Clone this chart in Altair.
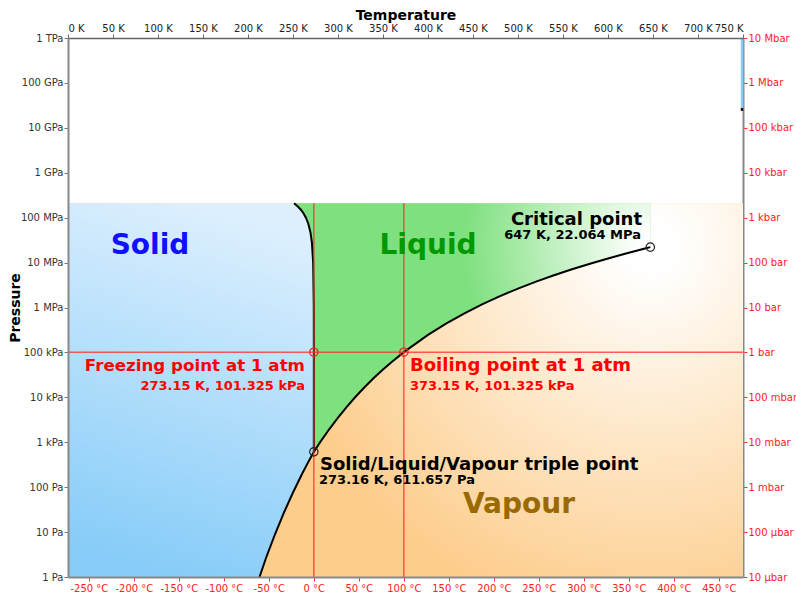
import json
import altair as alt
import pandas as pd

FONT = "DejaVu Sans"

# ---- phase boundaries of water (temperature in K, pressure in Pa) ----
# ice / vapour (sublimation)
sub_T = [212.8, 220.0, 230.0, 240.0, 250.0, 260.0, 265.0, 270.0, 273.16]
sub_P = [1.0, 2.65, 8.95, 27.3, 76.1, 195.8, 306.0, 470.0, 611.657]

# ice / liquid (melting), up to the ice Ih / III / liquid point
melt_T = [273.16, 273.15, 273.08, 272.4, 271.0, 269.4, 267.0, 264.2, 261.3, 258.5, 255.0, 251.165]
melt_P = [611.657, 101325, 1.08e6, 1.01e7, 2.79e7, 4.70e7, 7.34e7, 1.01e8, 1.28e8, 1.52e8, 1.80e8, 2.099e8]

# liquid / vapour (vaporisation), triple point to critical point
vap_T = [273.16, 280, 290, 300, 310, 320, 330, 340, 350, 360, 373.15, 400, 420, 440,
         460, 480, 500, 520, 540, 560, 580, 600, 620, 640, 647]
vap_P = [611.657, 991.8, 1919, 3536, 6230, 10550, 17200, 27190, 41680, 62200, 101325,
         245800, 437000, 733000, 1.171e6, 1.790e6, 2.639e6, 3.769e6, 5.237e6, 7.106e6,
         9.448e6, 12.34e6, 15.90e6, 20.27e6, 22.064e6]

# marked points
black_pts_T = [273.16, 647.0]          # triple point, critical point
black_pts_P = [611.657, 22.064e6]
red_pts_T = [273.15, 373.15]           # freezing and boiling at 1 atm
red_pts_P = [101325, 101325]

P_TOP = 2.099e8      # upper limit of the shaded phase regions
T_MAX = 750
P_HIGH_MARK = 2.75e10

# ---- axis ticks and labels ----
kelvin_ticks = list(range(0, 751, 50))
celsius_ticks = list(range(-250, 451, 50))
pa_ticks = [10.0 ** k for k in range(13)]
pa_labels = ["1 Pa", "10 Pa", "100 Pa", "1 kPa", "10 kPa", "100 kPa", "1 MPa", "10 MPa",
             "100 MPa", "1 GPa", "10 GPa", "100 GPa", "1 TPa"]
bar_labels = ["10 \u00b5bar", "100 \u00b5bar", "1 mbar", "10 mbar", "100 mbar", "1 bar", "10 bar",
              "100 bar", "1 kbar", "10 kbar", "100 kbar", "1 Mbar", "10 Mbar"]

x_scale = alt.Scale(domain=[0, T_MAX], nice=False, zero=False)
y_scale = alt.Scale(type="log", domain=[1, 1e12], nice=False)

decade_idx = "round(log(datum.value) / LN10)"

top_axis = alt.Axis(
    orient="top", values=kelvin_ticks, labelExpr="datum.value + ' K'",
    title="Temperature", titleFontSize=14, titleFontWeight="bold", titleColor="black",
    titleX=337.5, titleY=-19, titleBaseline="alphabetic", titleAlign="center",
    labelFontSize=10, labelColor="#222", labelPadding=1, tickSize=4, tickColor="#666",
    domainColor="#666", domainWidth=1.5, grid=False, zindex=1,
)
left_axis = alt.Axis(
    orient="left", values=pa_ticks,
    labelExpr=json.dumps(pa_labels, ensure_ascii=False) + "[" + decade_idx + "]",
    title="Pressure", titleFontSize=14, titleFontWeight="bold", titleColor="black",
    titleAngle=270, titleX=-49, titleY=269.5, titleAlign="center", titleBaseline="alphabetic",
    labelFontSize=10, labelColor="#333", labelPadding=1, tickSize=4, tickColor="#777",
    domainColor="#888", domainWidth=2, grid=False, zindex=1,
)
bottom_axis = alt.Axis(
    orient="bottom", values=[c + 273.15 for c in celsius_ticks],
    labelExpr="round(datum.value - 273.15) + ' \u00b0C'", title=None,
    labelFontSize=10, labelColor="#ff2020", labelPadding=2, tickSize=4, tickColor="#ff3030",
    domainColor="#888", domainWidth=2, grid=False, zindex=1,
)
right_axis = alt.Axis(
    orient="right", values=pa_ticks,
    labelExpr=json.dumps(bar_labels, ensure_ascii=False) + "[" + decade_idx + "]", title=None,
    labelFontSize=10, labelColor="#ff2020", labelPadding=1, tickSize=4, tickColor="#ff3030",
    domainColor="#888", domainWidth=2, grid=False, zindex=0,
)

# ---- region fills ----
vapour_fill = {
    "gradient": "radial", "x1": 0.863, "y1": 0.287, "r1": 0,
    "x2": 0.863, "y2": 0.287, "r2": 0.56,
    "stops": [{"offset": 0, "color": "#ffffff"}, {"offset": 0.06, "color": "#ffffff"},
              {"offset": 1, "color": "#fdcd8c"}],
}
liquid_fill = {
    "gradient": "radial", "x1": 1.0, "y1": 0.273, "r1": 0,
    "x2": 1.0, "y2": 0.273, "r2": 0.62,
    "stops": [{"offset": 0, "color": "#ffffff"}, {"offset": 0.05, "color": "#ffffff"},
              {"offset": 0.85, "color": "#7ee07e"}, {"offset": 1, "color": "#7ee07e"}],
}
solid_fill = {
    "gradient": "linear", "x1": 0.6, "y1": 0, "x2": 0.4, "y2": 1,
    "stops": [{"offset": 0, "color": "#def0fe"}, {"offset": 1, "color": "#86ccf8"}],
}

vapour_df = pd.DataFrame({"t0": [0], "t1": [T_MAX], "p0": [1.0], "p1": [P_TOP]})
vapour = alt.Chart(vapour_df).mark_rect(fill=vapour_fill, opacity=1).encode(
    x=alt.X("t0:Q", scale=x_scale, axis=top_axis),
    x2="t1:Q",
    y=alt.Y("p0:Q", scale=y_scale, axis=left_axis),
    y2="p1:Q",
)

liquid_df = pd.DataFrame({
    "T": [melt_T[-1]] + vap_T,
    "P": [vap_P[0]] + vap_P,
})
liquid_df["ptop"] = P_TOP
liquid = alt.Chart(liquid_df).mark_area(fill=liquid_fill, opacity=1).encode(
    x=alt.X("T:Q", scale=x_scale, axis=None),
    y=alt.Y("P:Q", scale=y_scale, axis=None),
    y2="ptop:Q",
)

solid_df = pd.DataFrame({"T": sub_T + melt_T[1:], "P": sub_P + melt_P[1:]})
solid_df["t0"] = 0.0
solid_df["i"] = range(len(solid_df))
solid = alt.Chart(solid_df).mark_area(fill=solid_fill, opacity=1, orient="horizontal").encode(
    y=alt.Y("P:Q", scale=y_scale, axis=None),
    x=alt.X("T:Q", scale=x_scale, axis=None),
    x2="t0:Q",
)

# ---- phase boundary curves ----
solid_line = alt.Chart(solid_df).mark_line(color="black", strokeWidth=2).encode(
    x=alt.X("T:Q", scale=x_scale, axis=None),
    y=alt.Y("P:Q", scale=y_scale, axis=None),
    order="i:Q",
)
vap_df = pd.DataFrame({"T": vap_T, "P": vap_P})
vap_line = alt.Chart(vap_df).mark_line(color="black", strokeWidth=2).encode(
    x=alt.X("T:Q", scale=x_scale, axis=None),
    y=alt.Y("P:Q", scale=y_scale, axis=None),
)

# ---- 1 atm guides ----
vrule_df = pd.DataFrame({"T": red_pts_T, "p0": [1.0, 1.0], "p1": [P_TOP, P_TOP]})
vrules = alt.Chart(vrule_df).mark_rule(color="#ff2a2a", strokeWidth=1.5, opacity=0.75).encode(
    x=alt.X("T:Q", scale=x_scale, axis=bottom_axis),
    y=alt.Y("p0:Q", scale=y_scale, axis=right_axis),
    y2="p1:Q",
)
hrule_df = pd.DataFrame({"P": [red_pts_P[0]], "t0": [0.0], "t1": [T_MAX]})
hrule = alt.Chart(hrule_df).mark_rule(color="#ff2a2a", strokeWidth=1.5, opacity=0.75).encode(
    y=alt.Y("P:Q", scale=y_scale, axis=None),
    x=alt.X("t0:Q", scale=x_scale, axis=None),
    x2="t1:Q",
)

# high-pressure marker along the right edge
edge_df = pd.DataFrame({"T": [T_MAX], "p0": [1e12], "p1": [P_HIGH_MARK], "p2": [P_HIGH_MARK * 0.87]})
edge_blue = alt.Chart(edge_df).mark_rule(color="#87cefa", strokeWidth=2.5, xOffset=-1).encode(
    x=alt.X("T:Q", scale=x_scale, axis=None),
    y=alt.Y("p0:Q", scale=y_scale, axis=None),
    y2="p1:Q",
)
edge_black = alt.Chart(edge_df).mark_rule(color="black", strokeWidth=2.5, xOffset=-1).encode(
    x=alt.X("T:Q", scale=x_scale, axis=None),
    y=alt.Y("p1:Q", scale=y_scale, axis=None),
    y2="p2:Q",
)

# ---- marked points ----
black_pts = alt.Chart(pd.DataFrame({"T": black_pts_T, "P": black_pts_P})).mark_point(
    shape="circle", filled=False, size=70, stroke="#222", strokeWidth=1.2, opacity=1
).encode(
    x=alt.X("T:Q", scale=x_scale, axis=None),
    y=alt.Y("P:Q", scale=y_scale, axis=None),
)
red_pts = alt.Chart(pd.DataFrame({"T": red_pts_T, "P": red_pts_P})).mark_point(
    shape="circle", filled=False, size=70, stroke="#ee2222", strokeWidth=1.2, opacity=1
).encode(
    x=alt.X("T:Q", scale=x_scale, axis=None),
    y=alt.Y("P:Q", scale=y_scale, axis=None),
)


def label(text, x, y, size, color, align="left"):
    return alt.Chart(pd.DataFrame({"text": [text]})).mark_text(
        font=FONT, fontSize=size, fontWeight="bold", color=color,
        align=align, baseline="alphabetic",
    ).encode(x=alt.value(x), y=alt.value(y), text="text:N")


labels = [
    label("Solid", 82, 216, 28, "#1010ff", "center"),
    label("Liquid", 360, 216, 28, "#009a00", "center"),
    label("Vapour", 451, 475, 28, "#9a6a00", "center"),
    label("Critical point", 574, 187, 18, "black", "right"),
    label("647 K, 22.064 MPa", 573, 201, 13, "black", "right"),
    label("Freezing point at 1 atm", 237, 333, 16.7, "#ff0000", "right"),
    label("273.15 K, 101.325 kPa", 237, 352, 13, "#ff0000", "right"),
    label("Boiling point at 1 atm", 342, 333, 18, "#ff0000", "left"),
    label("373.15 K, 101.325 kPa", 342, 352, 13, "#ff0000", "left"),
    label("Solid/Liquid/Vapour triple point", 252, 432, 18, "black", "left"),
    label("273.16 K, 611.657 Pa", 251, 446, 13, "black", "left"),
]

chart = alt.layer(
    vapour, liquid, solid, solid_line, vap_line, vrules, hrule,
    edge_blue, edge_black, black_pts, red_pts, *labels,
).resolve_axis(
    x="independent", y="independent"
).properties(
    width=675, height=539,
    padding={"left": 68, "top": 38, "right": 53, "bottom": 15},
    autosize=alt.AutoSizeParams(type="none"),
).configure_view(
    stroke=None
).configure_axis(
    labelFont=FONT, titleFont=FONT, grid=False
)

chart.save("out.html", embed_options={"renderer": "svg", "actions": False})
